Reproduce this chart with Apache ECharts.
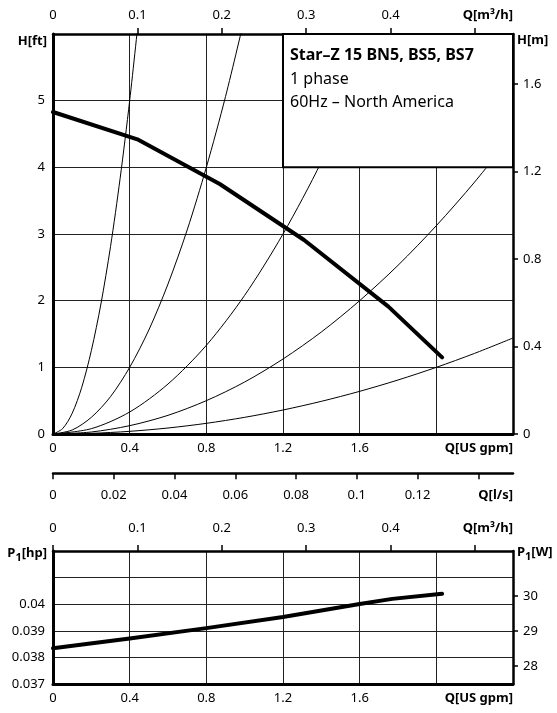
<!DOCTYPE html>
<html>
<head>
<meta charset="utf-8">
<script src="https://cdn.jsdelivr.net/npm/echarts@6/dist/echarts.min.js"></script>
<style>
html,body{margin:0;padding:0;background:#fff;}
#c{width:557px;height:713px;}
</style>
</head>
<body>
<div id="c"></div>
<script>
// ---- data ----
const GPM_PER_M3H = 4.40287;
const GPM_PER_LS = 15.8503;
const gpmMax = 2.4;
const ftMax = 6;
const gpmTicks = [0, 0.4, 0.8, 1.2, 1.6, 2.0, 2.4];
const m3hTicks = [0, 0.1, 0.2, 0.3, 0.4, 0.5];
const m3hLabels = [0, 0.1, 0.2, 0.3, 0.4];
const lsTicks = [0, 0.02, 0.04, 0.06, 0.08, 0.1, 0.12, 0.14];
const lsLabels = [0, 0.02, 0.04, 0.06, 0.08, 0.1, 0.12];
const mTicks = [0, 0.4, 0.8, 1.2, 1.6];
const hpMin = 0.037, hpMax = 0.042;
const wTicks = [28, 29, 30];
const wMin = 27.49, wMax = 31.29;

// pump head curve [Q gpm, H ft]
const pumpHead = [[0, 4.83], [0.44, 4.42], [0.87, 3.75], [1.31, 2.91], [1.75, 1.91], [2.03, 1.15]];
// system curves [Q gpm, H ft]
const system1 = [[0, 0], [0.05, 0.08], [0.1, 0.31], [0.15, 0.7], [0.2, 1.25], [0.25, 1.95], [0.3, 2.81], [0.35, 3.83], [0.4, 5.0], [0.45, 6.33]];
const system2 = [[0, 0], [0.1, 0.06], [0.2, 0.25], [0.3, 0.56], [0.4, 1.0], [0.5, 1.56], [0.6, 2.25], [0.7, 3.06], [0.8, 4.0], [0.9, 5.06], [1.0, 6.25]];
const system3 = [[0, 0], [0.2, 0.08], [0.4, 0.33], [0.6, 0.75], [0.8, 1.33], [1.0, 2.08], [1.2, 3.0], [1.4, 4.08], [1.6, 5.33], [1.8, 6.75]];
const system4 = [[0, 0], [0.2, 0.03], [0.4, 0.125], [0.6, 0.28], [0.8, 0.5], [1.0, 0.78], [1.2, 1.125], [1.4, 1.53], [1.6, 2.0], [1.8, 2.53], [2.0, 3.125], [2.2, 3.78], [2.4, 4.5]];
const system5 = [[0, 0], [0.2, 0.01], [0.4, 0.04], [0.6, 0.09], [0.8, 0.16], [1.0, 0.25], [1.2, 0.36], [1.4, 0.49], [1.6, 0.64], [1.8, 0.81], [2.0, 1.0], [2.2, 1.21], [2.4, 1.44]];
// power curve [Q gpm, P1 hp]
const pumpPower = [[0, 0.03834], [0.4, 0.03871], [0.8, 0.0391], [1.2, 0.03952], [1.6, 0.04001], [1.77, 0.0402], [2.03, 0.04039]];

const titleLines = ['Star–Z 15 BN5, BS5, BS7', '1 phase', '60Hz – North America'];
const legendBox = [[1.2, 6, 2.4, 4]];

// ---- chart ----
const FONT = 'Noto Sans';
const chart = echarts.init(document.getElementById('c'), null, {renderer: 'canvas'});
const fmt = v => String(parseFloat(Number(v).toFixed(4)));
const gridLine = {show: true, lineStyle: {color: '#222', width: 1}};
const labelBase = {color: '#000', fontSize: 13, fontFamily: FONT};
const unitRich = {u: {fontWeight: 'bold', fontSize: 13, color: '#000', fontFamily: FONT}};

function gpmAxis(gridIndex) {
  return {
    type: 'value', gridIndex, position: 'bottom', min: 0, max: gpmMax, interval: 0.4,
    axisLine: {show: true, onZero: false, lineStyle: {color: '#000', width: 3}},
    axisTick: {show: false},
    splitLine: gridLine,
    axisLabel: Object.assign({}, labelBase, {
      margin: 8, alignMaxLabel: 'right',
      formatter: v => Math.abs(v - gpmMax) < 1e-6 ? '{u|Q[US gpm]}' : (Math.abs(v - 2.0) < 1e-6 ? '' : fmt(v)),
      rich: unitRich
    })
  };
}
function m3hAxis(gridIndex, margin, withZeroTick) {
  const max = gpmMax / GPM_PER_M3H;
  return {
    type: 'value', gridIndex, position: 'top', min: 0, max: max,
    axisLine: {show: true, onZero: false, lineStyle: {color: '#000', width: 2.5}},
    axisTick: {show: true, length: 6, lineStyle: {color: '#000', width: 1.5},
      customValues: withZeroTick ? m3hTicks : m3hTicks.slice(1)},
    splitLine: {show: false},
    axisLabel: Object.assign({}, labelBase, {
      margin, alignMaxLabel: 'right',
      customValues: m3hLabels.concat([max]),
      formatter: v => Math.abs(v - max) < 1e-6 ? '{u|Q[m³/h]}' : fmt(v),
      rich: unitRich
    })
  };
}

const option = {
  animation: false,
  backgroundColor: '#fff',
  textStyle: {fontFamily: FONT},
  grid: [
    {left: 53, top: 34, width: 460, height: 400},
    {left: 53, top: 472.3, width: 460, height: 1},
    {left: 53, top: 551, width: 460, height: 133}
  ],
  xAxis: [
    gpmAxis(0),
    m3hAxis(0, 12, false),
    {
      type: 'value', gridIndex: 1, position: 'bottom', min: 0, max: gpmMax / GPM_PER_LS,
      axisLine: {show: true, onZero: false, lineStyle: {color: '#000', width: 2.5}},
      axisTick: {show: true, length: 6, lineStyle: {color: '#000', width: 1.5}, customValues: lsTicks},
      splitLine: {show: false},
      axisLabel: Object.assign({}, labelBase, {
        margin: 15, alignMaxLabel: 'right',
        customValues: lsLabels.concat([gpmMax / GPM_PER_LS]),
        formatter: v => Math.abs(v - gpmMax / GPM_PER_LS) < 1e-6 ? '{u|Q[l/s]}' : fmt(v),
        rich: unitRich
      })
    },
    m3hAxis(2, 16, true),
    gpmAxis(2)
  ],
  yAxis: [
    {
      type: 'value', gridIndex: 0, position: 'left', min: 0, max: ftMax, interval: 1,
      axisLine: {show: true, onZero: false, lineStyle: {color: '#000', width: 3}},
      axisTick: {show: false},
      splitLine: gridLine,
      axisLabel: Object.assign({}, labelBase, {margin: 8, formatter: v => v >= ftMax ? '' : fmt(v)})
    },
    {
      type: 'value', gridIndex: 0, position: 'right', min: 0, max: ftMax * 0.3048,
      axisLine: {show: true, onZero: false, lineStyle: {color: '#000', width: 2.5}},
      axisTick: {show: true, length: 5, lineStyle: {color: '#000', width: 1.5}, customValues: mTicks},
      splitLine: {show: false},
      axisLabel: Object.assign({}, labelBase, {margin: 10, customValues: mTicks, formatter: fmt})
    },
    {type: 'value', gridIndex: 1, show: false, min: 0, max: 1, splitLine: {show: false}},
    {
      type: 'value', gridIndex: 2, position: 'left', min: hpMin, max: hpMax, interval: 0.001,
      axisLine: {show: true, onZero: false, lineStyle: {color: '#000', width: 3}},
      axisTick: {show: false},
      splitLine: gridLine,
      axisLabel: Object.assign({}, labelBase, {margin: 8, formatter: v => v > 0.0405 ? '' : fmt(v)})
    },
    {
      type: 'value', gridIndex: 2, position: 'right', min: wMin, max: wMax,
      axisLine: {show: true, onZero: false, lineStyle: {color: '#000', width: 2.5}},
      axisTick: {show: true, length: 5, lineStyle: {color: '#000', width: 1.5}, customValues: wTicks},
      splitLine: {show: false},
      axisLabel: Object.assign({}, labelBase, {margin: 10, customValues: wTicks, formatter: fmt})
    }
  ],
  series: [
    ...[system1, system2, system3, system4, system5].map(d => ({
      type: 'line', xAxisIndex: 0, yAxisIndex: 0, data: d, smooth: 0.3,
      symbol: 'none', clip: true, z: 2, lineStyle: {color: '#000', width: 1}
    })),
    {
      type: 'line', xAxisIndex: 0, yAxisIndex: 0, data: pumpHead, symbol: 'none', z: 3,
      lineStyle: {color: '#000', width: 4, join: 'round', cap: 'round'}
    },
    {
      type: 'custom', xAxisIndex: 0, yAxisIndex: 0, data: legendBox, z: 10, clip: false,
      renderItem: function (params, api) {
        const p0 = api.coord([api.value(0), api.value(1)]);
        const p1 = api.coord([api.value(2), api.value(3)]);
        const x = p0[0], y = p0[1];
        return {
          type: 'group',
          children: [
            {type: 'rect', shape: {x: x, y: y, width: p1[0] - x, height: p1[1] - y},
              style: {fill: '#fff', stroke: '#000', lineWidth: 2}},
            {type: 'text', style: {text: titleLines[0], x: x + 7, y: y + 21, verticalAlign: 'middle',
              font: 'bold 16px "' + FONT + '"', fill: '#000'}},
            {type: 'text', style: {text: titleLines[1], x: x + 7, y: y + 45, verticalAlign: 'middle',
              font: '16px "' + FONT + '"', fill: '#000'}},
            {type: 'text', style: {text: titleLines[2], x: x + 7, y: y + 68, verticalAlign: 'middle',
              font: '16px "' + FONT + '"', fill: '#000'}}
          ]
        };
      }
    },
    {
      type: 'line', xAxisIndex: 4, yAxisIndex: 3, data: pumpPower, symbol: 'none', z: 3,
      lineStyle: {color: '#000', width: 4, join: 'round', cap: 'round'}
    }
  ],
  graphic: [
    {type: 'text', right: 557 - 47, top: 35, style: {text: '{b|H[ft]}', rich: {b: {fontWeight: 'bold', fontSize: 13, fontFamily: FONT, fill: '#000'}}}},
    {type: 'text', left: 517, top: 34, style: {text: '{b|H[m]}', rich: {b: {fontWeight: 'bold', fontSize: 13, fontFamily: FONT, fill: '#000'}}}},
    {type: 'text', right: 557 - 47, top: 547, style: {text: '{b|P}{s|1}{b|[hp]}', rich: {
      b: {fontWeight: 'bold', fontSize: 13, fontFamily: FONT, fill: '#000', lineHeight: 20},
      s: {fontWeight: 'bold', fontSize: 11, fontFamily: FONT, fill: '#000', lineHeight: 11, verticalAlign: 'bottom'}}}},
    {type: 'text', left: 517, top: 546, style: {text: '{b|P}{s|1}{b|[W]}', rich: {
      b: {fontWeight: 'bold', fontSize: 13, fontFamily: FONT, fill: '#000', lineHeight: 20},
      s: {fontWeight: 'bold', fontSize: 11, fontFamily: FONT, fill: '#000', lineHeight: 11, verticalAlign: 'bottom'}}}}
  ]
};
chart.setOption(option);
</script>
</body>
</html>
